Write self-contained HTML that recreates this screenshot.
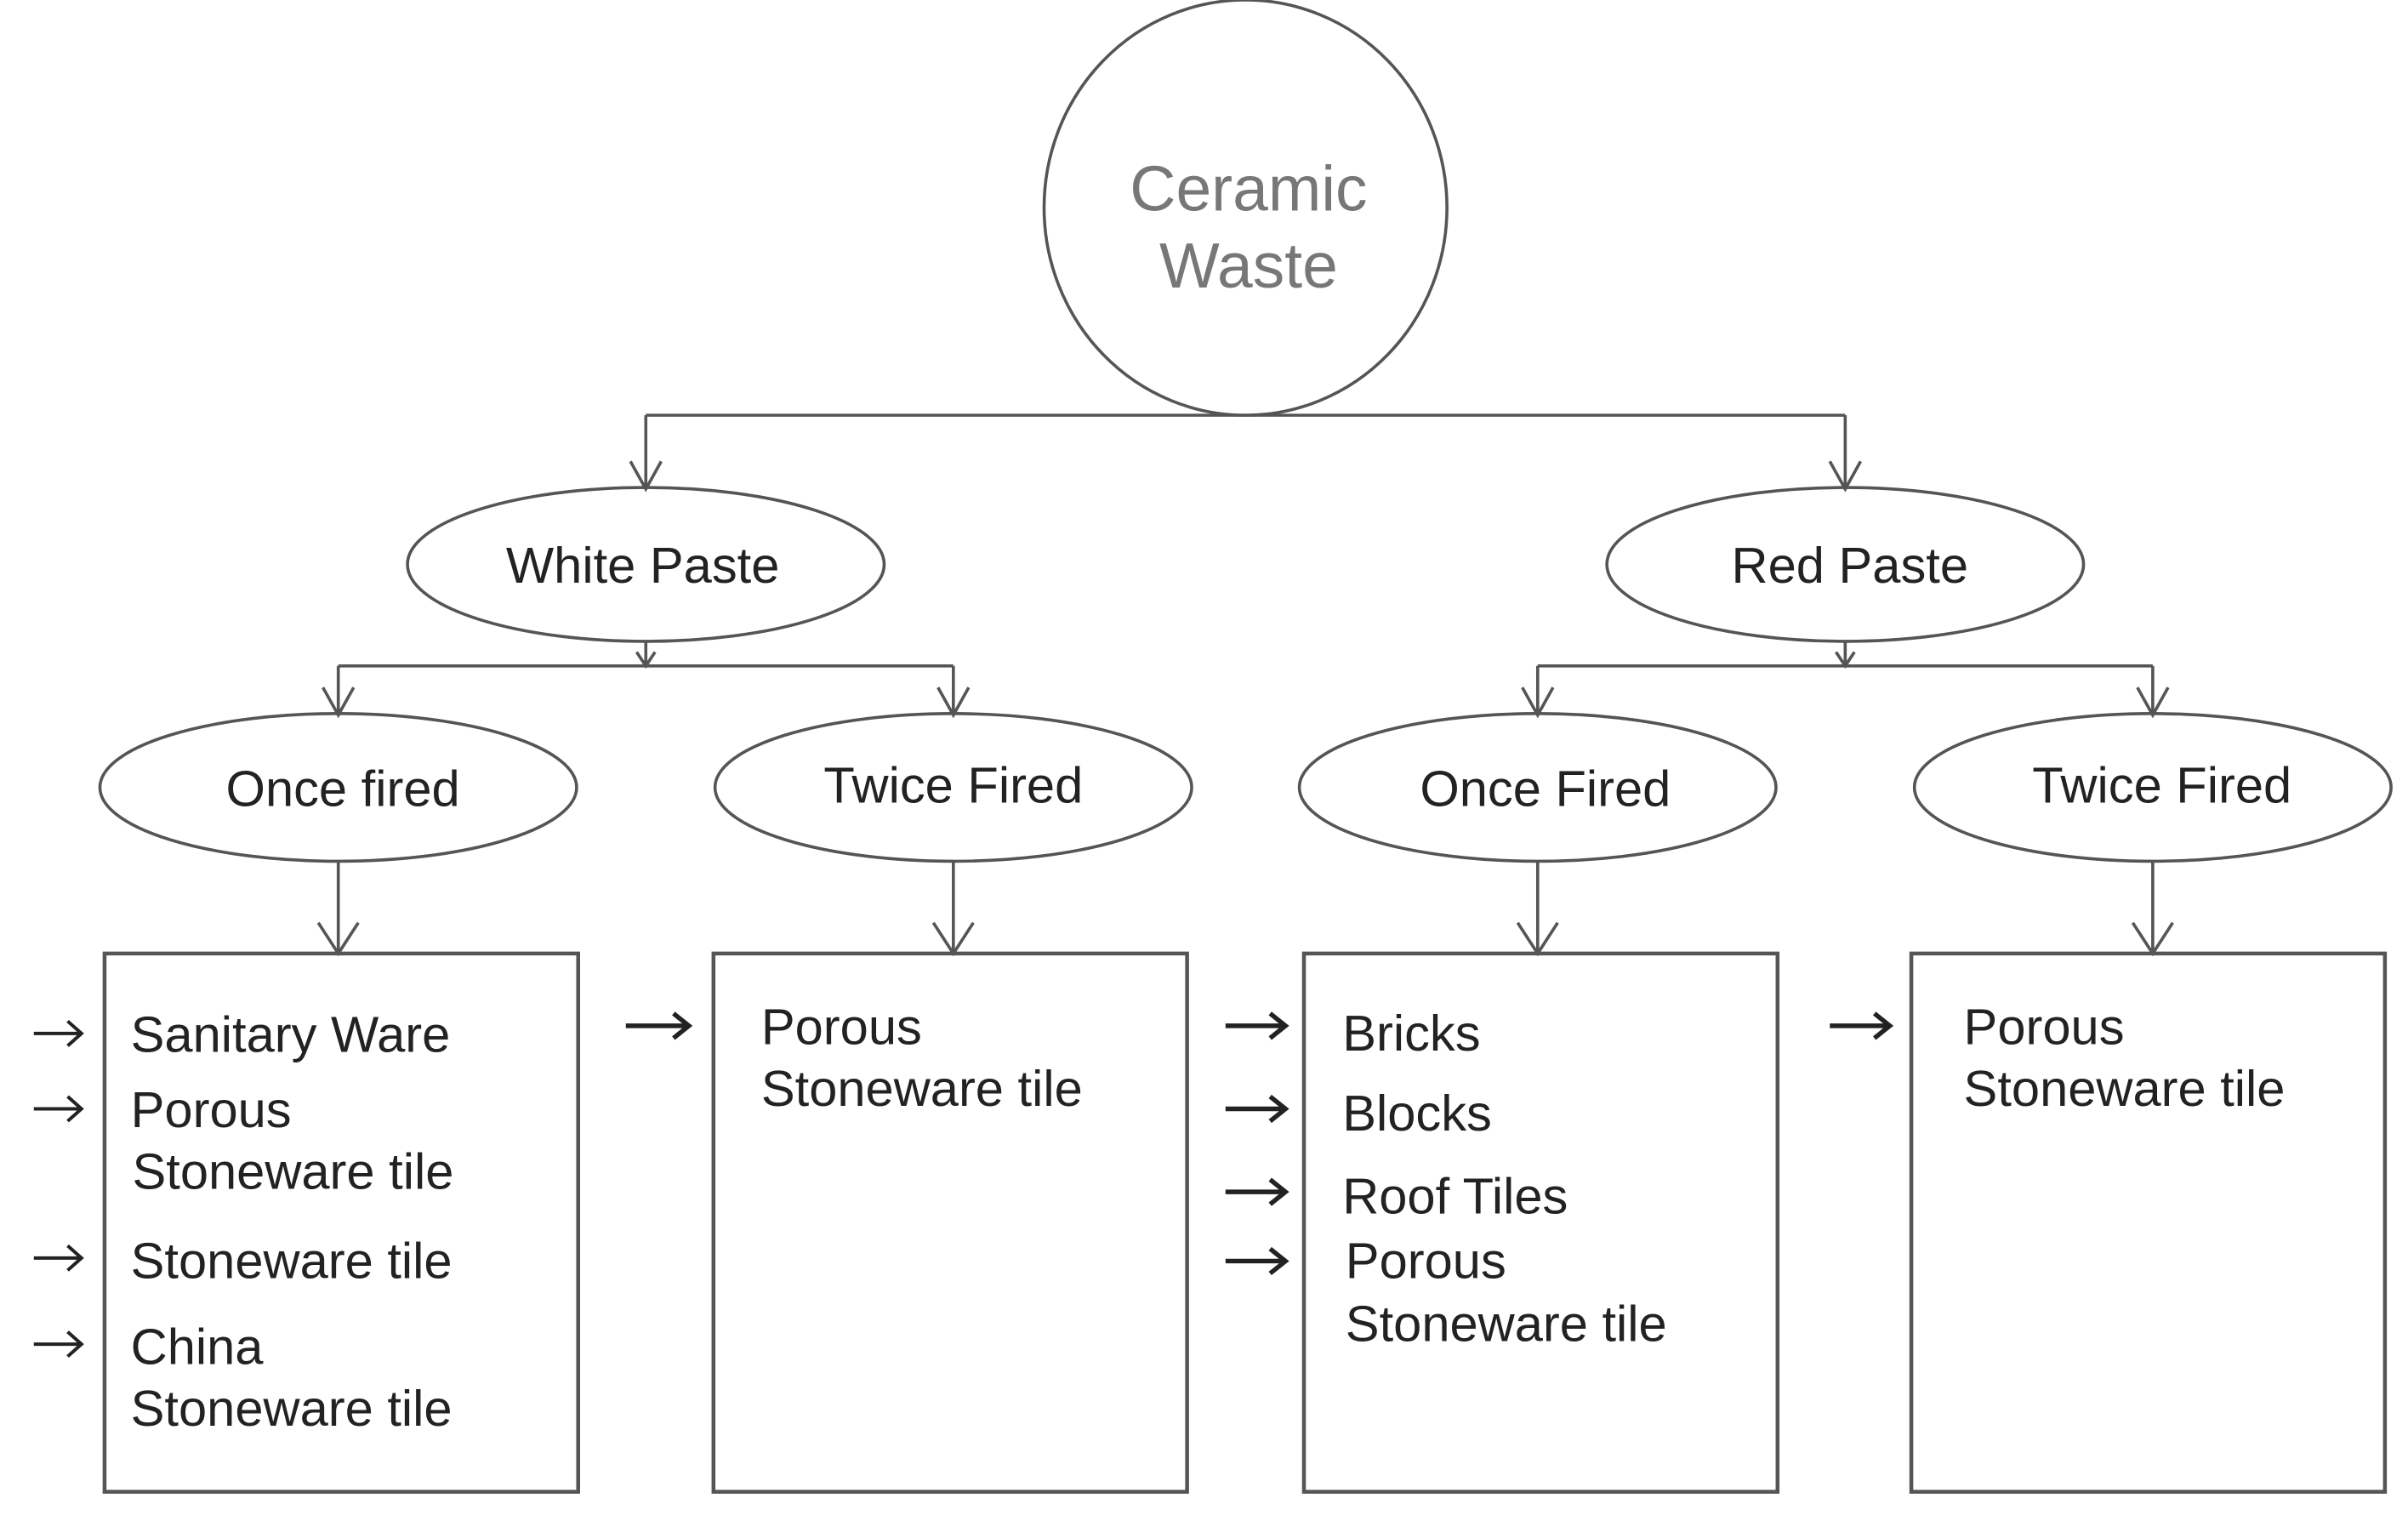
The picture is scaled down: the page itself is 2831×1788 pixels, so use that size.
<!DOCTYPE html>
<html><head><meta charset="utf-8"><style>
html,body{margin:0;padding:0;background:#fff;}
svg{display:block;}
text{font-family:"Liberation Sans",Arial,sans-serif;}
</style></head><body>
<svg width="2831" height="1788" viewBox="0 0 1566 989" preserveAspectRatio="none" xmlns="http://www.w3.org/2000/svg">
<g fill="none" stroke="#555" stroke-width="2">
<ellipse cx="810" cy="135" rx="131" ry="135"/>
<path d="M420 270 H1200 M420 270 V318 M1200 270 V318"/>
<path d="M410 300 L420 318 L430 300 M1190 300 L1200 318 L1210 300"/>
<ellipse cx="420" cy="367" rx="155" ry="50"/>
<ellipse cx="1200" cy="367" rx="155" ry="50"/>
<path d="M420 417 V433 M220 433 H620 M220 433 V465 M620 433 V465"/>
<path d="M1200 417 V433 M1000 433 H1400 M1000 433 V465 M1400 433 V465"/>
<path d="M210 447 L220 465 L230 447 M610 447 L620 465 L630 447 M990 447 L1000 465 L1010 447 M1390 447 L1400 465 L1410 447"/>
<path d="M414 424 L420 433 L426 424 M1194 424 L1200 433 L1206 424"/>
<ellipse cx="220" cy="512" rx="155" ry="48"/>
<ellipse cx="620" cy="512" rx="155" ry="48"/>
<ellipse cx="1000" cy="512" rx="155" ry="48"/>
<ellipse cx="1400" cy="512" rx="155" ry="48"/>
<path d="M220 560 V620 M620 560 V620 M1000 560 V620 M1400 560 V620"/>
<path d="M207 600 L220 620 L233 600 M607 600 L620 620 L633 600 M987 600 L1000 620 L1013 600 M1387 600 L1400 620 L1413 600"/>
<rect x="68" y="620" width="308" height="350" stroke-width="2.5"/>
<rect x="464" y="620" width="308" height="350" stroke-width="2.5"/>
<rect x="848" y="620" width="308" height="350" stroke-width="2.5"/>
<rect x="1243" y="620" width="308" height="350" stroke-width="2.5"/>
</g>
<g fill="none" stroke="#222" stroke-width="2.2">
<path d="M22 672 H52 M44 664 L53 672 L44 680"/>
<path d="M22 721 H52 M44 713 L53 721 L44 729"/>
<path d="M22 818 H52 M44 810 L53 818 L44 826"/>
<path d="M22 874 H52 M44 866 L53 874 L44 882"/>
<path d="M407 667 H447 M438 659 L448 667 L438 675" stroke-width="3"/>
<path d="M797 667 H835 M826 659 L836 667 L826 675" stroke-width="3"/>
<path d="M797 721 H835 M826 713 L836 721 L826 729" stroke-width="3"/>
<path d="M797 775 H835 M826 767 L836 775 L826 783" stroke-width="3"/>
<path d="M797 820 H835 M826 812 L836 820 L826 828" stroke-width="3"/>
<path d="M1190 667 H1228 M1219 659 L1229 667 L1219 675" stroke-width="3"/>
</g>
<g fill="#777" font-size="41.5" text-anchor="middle">
<text x="812" y="137">Ceramic</text>
<text x="812" y="187">Waste</text>
</g>
<g fill="#222" font-size="33" text-anchor="middle">
<text x="418" y="379">White Paste</text>
<text x="1203" y="379">Red Paste</text>
<text x="223" y="524">Once fired</text>
<text x="620" y="522">Twice Fired</text>
<text x="1005" y="524">Once Fired</text>
<text x="1406" y="522">Twice Fired</text>
</g>
<g fill="#222" font-size="33">
<text x="85" y="684">Sanitary Ware</text>
<text x="85" y="733">Porous</text>
<text x="86" y="773">Stoneware tile</text>
<text x="85" y="831">Stoneware tile</text>
<text x="85" y="887">China</text>
<text x="85" y="927">Stoneware tile</text>
<text x="495" y="679">Porous</text>
<text x="495" y="719">Stoneware tile</text>
<text x="873" y="683">Bricks</text>
<text x="873" y="735">Blocks</text>
<text x="873" y="789">Roof Tiles</text>
<text x="875" y="831">Porous</text>
<text x="875" y="872">Stoneware tile</text>
<text x="1277" y="679">Porous</text>
<text x="1277" y="719">Stoneware tile</text>
</g>
</svg>
</body></html>
